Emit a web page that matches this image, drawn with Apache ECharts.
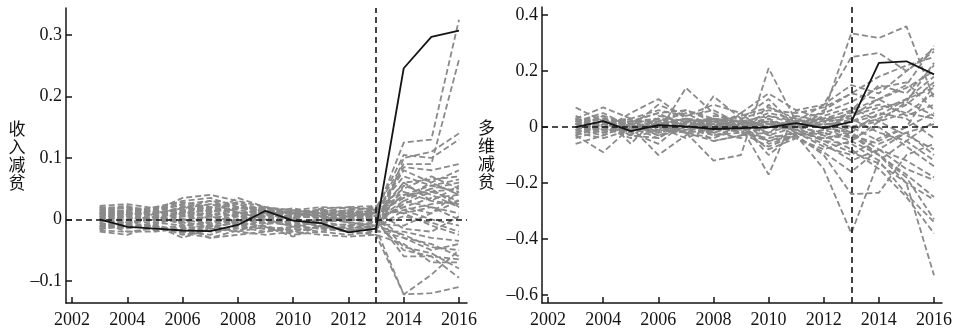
<!DOCTYPE html>
<html>
<head>
<meta charset="utf-8">
<script src="https://cdn.jsdelivr.net/npm/echarts@6/dist/echarts.min.js"></script>
<style>
  html, body { margin: 0; padding: 0; background: #fff; }
  #chart { width: 956px; height: 332px; }
</style>
</head>
<body>
<div id="chart"></div>
<script>
// 年份
const years = [2003, 2004, 2005, 2006, 2007, 2008, 2009, 2010, 2011, 2012, 2013, 2014, 2015, 2016];
const tickYears = [2002, 2004, 2006, 2008, 2010, 2012, 2014, 2016];
const policyYear = 2013;

// 收入减贫
const incomeTicks = [-0.1, 0, 0.1, 0.2, 0.3];
const incomeTreated = [0, -0.012, -0.015, -0.018, -0.019, -0.009, 0.014, -0.002, -0.006, -0.021, -0.015, 0.246, 0.297, 0.307];
const incomePlacebo = [
  [0.02, 0.018, 0.012, 0.025, 0.03, 0.015, 0.01, 0.005, 0.008, 0.012, 0.01, 0.125, 0.13, 0.325],
  [0.015, 0.02, 0.01, 0.015, 0.02, 0.01, 0.012, 0.008, 0.01, 0.015, 0.02, 0.09, 0.09, 0.26],
  [-0.015, -0.01, -0.012, -0.02, -0.025, -0.01, -0.015, -0.02, -0.012, -0.015, -0.02, 0.1, 0.11, 0.14],
  [0.01, 0.005, 0.015, 0.035, 0.04, 0.03, 0.02, 0.01, 0.005, 0.01, 0.015, 0.105, 0.1, 0.13],
  [0.005, 0.01, 0.008, 0.02, 0.01, 0.035, 0.02, 0.015, 0.01, 0.005, 0.012, 0.085, 0.08, 0.09],
  [-0.005, -0.02, -0.015, -0.01, -0.005, 0, 0.005, -0.01, -0.015, -0.02, -0.025, -0.122, -0.12, -0.11],
  [0, 0.005, -0.005, -0.01, -0.02, -0.015, -0.01, -0.025, -0.02, -0.01, -0.015, -0.122, -0.09, -0.05],
  [0.01, -0.005, 0, 0.01, 0.015, 0.005, 0, -0.005, 0, 0.005, 0, -0.06, -0.06, -0.095],
  [-0.01, -0.015, -0.005, 0, 0.005, -0.01, -0.005, 0, -0.005, -0.01, -0.005, -0.05, -0.06, -0.065],
  [0.012, 0.02, 0.015, 0.005, 0, 0.01, 0.015, 0.012, 0.015, 0.01, 0.008, 0.06, 0.065, 0.07],
  [-0.02, -0.025, -0.01, -0.03, -0.015, -0.02, -0.012, -0.028, -0.01, -0.02, -0.01, 0.03, 0.05, 0.06],
  [0.008, 0.012, 0.005, 0.012, 0.025, 0.02, 0.01, 0, 0.012, 0.008, 0.005, 0.04, 0.045, 0.05],
  [-0.008, 0, -0.008, 0.005, 0.01, 0.005, -0.005, -0.01, -0.005, 0, 0.003, 0.02, 0.035, 0.04],
  [0.018, 0.01, 0.02, 0.01, 0.005, 0.018, 0.02, 0.01, 0.005, 0.015, 0.01, 0.045, 0.03, 0.025],
  [-0.012, -0.008, -0.018, -0.012, -0.03, -0.025, -0.02, -0.015, -0.02, -0.025, -0.02, -0.02, -0.03, -0.035],
  [0.005, 0.015, 0.01, 0.02, 0.015, 0.025, 0.008, 0.005, 0.015, 0.012, 0.005, -0.03, -0.04, -0.06],
  [0, -0.01, 0.005, -0.005, 0.005, -0.005, 0.01, 0.012, 0.005, -0.005, -0.01, 0.005, -0.005, -0.02],
  [0.022, 0.025, 0.018, 0.028, 0.02, 0.01, 0.005, 0.015, 0.02, 0.018, 0.015, 0.07, 0.055, 0.045],
  [-0.018, -0.02, -0.02, -0.015, -0.01, -0.02, -0.025, -0.02, -0.025, -0.028, -0.025, -0.04, -0.07, -0.07],
  [0.003, 0, 0.012, 0.008, 0.018, 0.012, 0.005, 0, -0.005, 0.002, 0, 0.03, 0.02, 0.01],
  [0.015, 0.005, 0, -0.005, -0.01, 0, 0.01, 0.005, 0.01, 0.015, 0.018, 0.05, 0.07, 0.05],
  [-0.005, 0.008, 0.012, 0.015, 0.005, -0.005, 0, 0.005, 0.002, -0.005, -0.008, -0.01, 0.01, 0.03],
  [0.01, 0.015, 0.02, 0.03, 0.035, 0.02, 0.015, 0.01, 0.012, 0.02, 0.022, 0.01, 0.02, 0],
  [-0.015, -0.012, -0.01, -0.025, -0.018, -0.012, -0.02, -0.012, -0.015, -0.012, -0.018, -0.03, -0.05, -0.04],
  [0.008, 0.003, -0.002, 0, -0.008, 0.005, 0.012, 0.018, 0.01, 0.005, 0.008, 0.035, 0.06, 0.08],
  [-0.002, -0.005, 0.002, 0.012, 0.02, 0.008, -0.002, -0.008, -0.002, 0.003, 0.005, 0.015, 0.025, 0.03],
  [0.012, 0.008, 0.015, 0, -0.005, 0.008, 0.018, 0.015, 0.008, 0.01, 0.012, -0.015, -0.02, 0.005],
  [-0.01, -0.005, -0.012, -0.018, -0.012, -0.005, -0.012, -0.018, -0.01, -0.008, -0.012, 0.055, 0.04, 0.02],
  [0.018, 0.022, 0.008, 0.018, 0.03, 0.025, 0.012, 0.002, 0.018, 0.02, 0.016, 0.01, -0.01, -0.025],
  [0.004, 0.012, 0.018, 0.022, 0.012, 0.018, 0.015, 0.01, 0.006, 0, -0.005, 0.025, 0.045, 0.03],
  [0.005, -0.008, 0.01, 0.018, 0.025, 0.012, 0, -0.012, -0.005, 0.005, 0.01, 0.08, 0.06, 0.04],
  [-0.012, 0, 0.005, -0.008, -0.015, -0.002, 0.008, 0, -0.01, -0.015, -0.01, -0.025, -0.045, -0.05],
  [0.016, 0.01, 0, 0.005, 0.012, 0.02, 0.018, 0.008, 0.002, 0.008, 0.004, 0.04, 0.055, 0.065],
  [-0.006, -0.014, -0.008, -0.022, -0.03, -0.018, -0.008, -0.002, -0.012, -0.018, -0.015, 0.015, 0, -0.01],
  [0.02, 0.012, 0.006, 0.012, 0.008, -0.002, -0.006, 0.004, 0.012, 0.006, 0.002, 0.06, 0.03, 0.055],
  [0, 0.01, 0.015, 0.025, 0.018, 0.028, 0.015, 0.008, 0.004, 0.002, 0.006, -0.045, -0.055, -0.08],
  [-0.016, -0.008, 0.004, 0.008, 0, -0.008, -0.016, -0.012, -0.004, -0.002, 0, 0.02, 0.01, 0.045],
  [0.01, 0.016, 0.006, -0.004, -0.012, -0.006, 0.004, 0.012, 0.016, 0.012, 0.014, 0.035, 0.05, 0.02]
];

// 多维减贫
const multiTicks = [-0.6, -0.4, -0.2, 0, 0.2, 0.4];
const multiTreated = [0, 0.021, -0.015, 0.007, 0.002, -0.007, -0.004, -0.001, 0.014, -0.004, 0.018, 0.229, 0.235, 0.188];
const multiPlacebo = [
  [0.02, 0, -0.01, 0.03, 0.02, 0, 0.01, 0.02, 0, 0.05, 0.335, 0.318, 0.36, 0.1],
  [0.01, 0.03, 0, 0.02, 0.01, 0.03, 0, 0, 0.02, 0.08, 0.25, 0.265, 0.2, 0.27],
  [-0.02, 0, 0.02, -0.01, 0, 0.02, -0.02, -0.05, -0.03, -0.15, -0.38, -0.12, -0.05, 0.02],
  [0, -0.02, 0.01, 0, -0.02, -0.01, 0, 0.02, -0.03, -0.1, -0.24, -0.235, -0.1, -0.06],
  [0.01, 0, 0, -0.02, 0, 0.01, 0.02, 0, 0, -0.02, -0.05, -0.1, -0.2, -0.53],
  [0.07, 0.02, -0.01, 0.01, 0.03, 0.02, 0, 0.01, -0.01, -0.03, -0.08, -0.15, -0.25, -0.38],
  [-0.06, -0.03, 0.01, -0.03, 0, -0.01, 0.02, 0.01, 0, -0.05, -0.06, -0.12, -0.24, -0.34],
  [0.03, 0.07, 0.03, -0.02, 0.14, 0.05, 0, 0.02, 0.01, 0, -0.03, -0.1, -0.17, -0.25],
  [-0.03, -0.09, 0, 0.01, -0.02, -0.12, -0.1, 0.21, 0.02, 0, 0.04, 0.1, 0.15, 0.29],
  [0, 0.04, -0.06, 0.04, 0.02, 0.02, 0, -0.17, 0.06, 0.08, 0.15, 0.12, 0.2, 0.28],
  [0.03, 0.01, 0, -0.1, -0.03, 0.11, 0.03, 0.1, 0, 0.06, 0.12, 0.18, 0.22, 0.25],
  [-0.04, -0.01, 0.05, 0.1, 0.03, -0.02, -0.04, 0.08, 0, 0.03, 0.04, 0.07, 0.09, 0.23],
  [0, 0.02, 0.03, 0.06, 0.04, 0.08, 0.05, 0.12, 0.06, 0.03, 0, -0.05, 0, 0.15],
  [0.02, 0, -0.02, -0.06, 0.02, -0.03, 0, -0.05, -0.02, -0.06, -0.12, -0.08, -0.15, -0.19],
  [-0.01, 0.01, 0, 0.02, 0.05, 0, 0.05, -0.03, -0.04, -0.08, -0.05, 0.02, 0.05, 0.12],
  [0.01, -0.01, 0.03, 0, -0.02, 0.02, 0.02, 0, 0.02, 0.02, 0.03, -0.02, -0.05, -0.12],
  [0, 0.01, -0.02, 0.01, 0, -0.03, -0.02, -0.07, -0.03, -0.02, 0.06, 0.1, 0.04, 0.08],
  [0.02, 0.03, 0.01, -0.03, -0.01, 0.04, 0.03, 0.06, 0.05, 0.07, 0.12, 0.1, 0.14, 0.2],
  [-0.02, -0.04, -0.01, 0.01, 0.03, 0, -0.02, -0.04, -0.02, -0.07, -0.1, -0.04, 0, 0.05],
  [0.04, 0, 0.02, 0.05, 0, 0.03, 0.01, 0.05, 0.03, 0, -0.02, 0.05, 0.03, -0.04],
  [-0.01, 0.02, -0.03, -0.04, 0.02, -0.05, -0.03, -0.02, 0.01, -0.03, 0, 0.03, 0.08, 0.16],
  [0, -0.02, 0.02, 0.03, 0, 0.02, 0, 0.03, -0.01, 0.04, 0.07, 0.02, -0.03, -0.08],
  [0.02, 0.05, 0, 0.08, 0.04, 0.06, 0.01, -0.02, 0.04, 0.02, -0.02, -0.08, -0.12, -0.18],
  [-0.03, 0, -0.04, -0.01, -0.02, -0.04, 0, -0.08, -0.04, -0.09, -0.16, -0.08, -0.02, -0.1],
  [0.01, 0.03, 0.02, 0.02, 0.06, 0.02, 0.04, 0.07, 0.03, 0.05, 0.09, 0.14, 0.16, 0.06],
  [0, -0.01, 0, 0, -0.01, 0.01, -0.01, 0, 0.01, 0.01, 0.02, 0.06, 0.1, 0.14],
  [-0.02, 0.01, 0.01, -0.02, 0, -0.02, 0.01, -0.1, -0.02, -0.04, -0.02, -0.1, -0.18, -0.33],
  [0.03, -0.01, -0.01, 0.01, 0.01, 0, 0, 0.02, 0, 0.02, 0.05, 0.08, 0.05, 0.03],
  [0.02, 0.04, 0.01, 0, 0.03, 0.01, -0.02, 0.04, 0.02, 0.03, 0.02, 0.04, 0.1, 0.18],
  [-0.01, -0.03, 0.01, 0.03, 0.01, -0.02, 0.01, 0.03, -0.02, -0.04, -0.03, -0.06, -0.02, 0.01],
  [0, 0.02, 0, -0.04, 0.02, 0.03, 0.02, -0.03, 0, 0.01, 0, 0.02, 0.09, 0.04],
  [0.03, 0, -0.03, 0.02, -0.02, -0.05, -0.03, 0, -0.01, -0.05, -0.09, -0.13, -0.2, -0.26],
  [-0.03, 0.01, 0.02, 0.05, 0.06, 0.03, 0.02, 0.04, 0.01, 0.03, 0.06, 0.15, 0.12, 0.22],
  [0.01, -0.02, -0.01, 0, -0.04, 0, 0.03, -0.06, -0.03, -0.01, -0.04, 0, -0.07, -0.14]
];

const INK = '#141414';
const GRAY = '#8a8a8a';
const SERIF = '"Liberation Serif", "DejaVu Serif", serif';
const CJK = '"Noto Sans CJK SC", sans-serif';

const toPoints = (vals) => years.map((y, i) => [y, vals[i]]);

// 负号用长横
const fmtNum = (v) => {
  const r = Math.round(v * 10) / 10;
  if (r === 0) return '0';
  return r < 0 ? '\u2013' + Math.abs(r) : String(r);
};

function makeX(idx) {
  return {
    type: 'value',
    gridIndex: idx,
    min: 2001.78,
    max: 2016.29,
    splitLine: { show: false },
    axisLine: { onZero: false, lineStyle: { color: INK, width: 1.5 } },
    axisTick: { inside: true, length: 6, customValues: tickYears, lineStyle: { color: INK, width: 1.5 } },
    axisLabel: {
      customValues: tickYears,
      formatter: (v) => String(v),
      fontFamily: SERIF, fontSize: 18, color: INK, margin: 8
    }
  };
}

function makeY(idx, name, min, max, ticks, gap) {
  return {
    type: 'value',
    gridIndex: idx,
    min: min,
    max: max,
    name: name.split('').join('\n'),
    nameLocation: 'middle',
    nameRotate: 0,
    nameGap: gap,
    nameTextStyle: { fontFamily: CJK, fontSize: 17, lineHeight: 18, color: INK },
    splitLine: { show: false },
    axisLine: { onZero: false, lineStyle: { color: INK, width: 1.5 } },
    axisTick: { inside: true, length: 6, customValues: ticks, lineStyle: { color: INK, width: 1.5 } },
    axisLabel: {
      customValues: ticks,
      formatter: fmtNum,
      fontFamily: SERIF, fontSize: 18, color: INK, margin: 4
    }
  };
}

function panelSeries(idx, placebo, treated) {
  const list = placebo.map((vals) => ({
    type: 'line',
    xAxisIndex: idx,
    yAxisIndex: idx,
    data: toPoints(vals),
    showSymbol: false,
    silent: true,
    lineStyle: { color: GRAY, width: 1.8, type: [6, 3] }
  }));
  list.push({
    type: 'line',
    xAxisIndex: idx,
    yAxisIndex: idx,
    data: toPoints(treated),
    showSymbol: false,
    silent: true,
    z: 5,
    lineStyle: { color: INK, width: 1.8 },
    markLine: {
      symbol: 'none',
      silent: true,
      label: { show: false },
      lineStyle: { color: INK, width: 1.6, type: [6, 4] },
      data: [{ xAxis: policyYear }, { yAxis: 0 }]
    }
  });
  return list;
}

const chart = echarts.init(document.getElementById('chart'));
chart.setOption({
  animation: false,
  grid: [
    { left: 66, right: 489, top: 8, bottom: 29 },
    { left: 542, right: 14, top: 7, bottom: 29 }
  ],
  xAxis: [makeX(0), makeX(1)],
  yAxis: [
    makeY(0, '收入减贫', -0.136, 0.344, incomeTicks, 38),
    makeY(1, '多维减贫', -0.629, 0.429, multiTicks, 47)
  ],
  series: [
    ...panelSeries(0, incomePlacebo, incomeTreated),
    ...panelSeries(1, multiPlacebo, multiTreated)
  ]
});
</script>
</body>
</html>
